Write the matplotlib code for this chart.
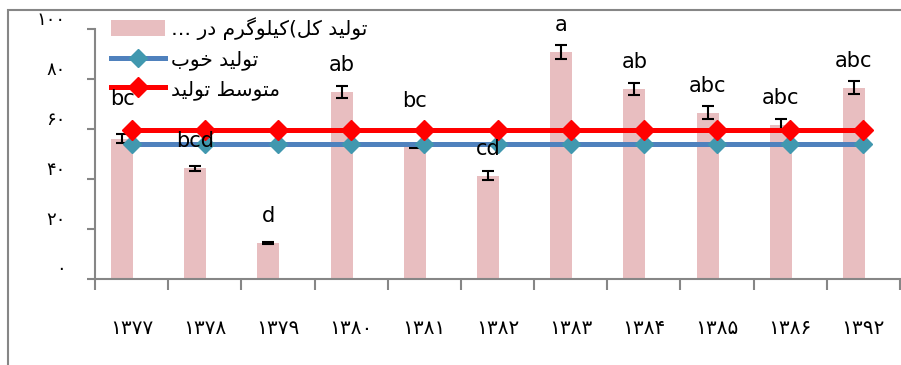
import numpy as np
import matplotlib
matplotlib.use("Agg")
import matplotlib.pyplot as plt
from matplotlib.patches import Rectangle

# years (persian digits), bar values, error half-widths, group letters
years = ['۱۳۷۷', '۱۳۷۸', '۱۳۷۹', '۱۳۸۰', '۱۳۸۱', '۱۳۸۲',
         '۱۳۸۳', '۱۳۸۴', '۱۳۸۵', '۱۳۸۶', '۱۳۹۲']
total = [56.0, 44.2, 14.2, 74.8, 53.0, 41.2, 90.6, 75.9, 66.5, 61.6, 76.5]
err = [1.8, 1.0, 0.4, 2.5, 0.5, 1.8, 2.8, 2.3, 2.5, 2.5, 2.5]
letters = ['bc', 'bcd', 'd', 'ab', 'bc', 'cd', 'a', 'ab', 'abc', 'abc', 'abc']
good = [54.1] * 11
mean = [59.5] * 11

yticks = [0, 20, 40, 60, 80, 100]
ytick_labels = ['۰', '۲۰', '۴۰', '۶۰', '۸۰', '۱۰۰']

name_total = 'تولید کل(کیلوگرم در …'
name_good = 'تولید خوب'
name_mean = 'متوسط تولید'

# no text shaping in matplotlib -> pick presentation forms by hand
FORMS = {
    'ت': '\uFE95\uFE96\uFE97\uFE98',
    'و': '\uFEED\uFEEE',
    'ل': '\uFEDD\uFEDE\uFEDF\uFEE0',
    'ی': '\uFBFC\uFBFD\uFBFE\uFBFF',
    'د': '\uFEA9\uFEAA',
    'ک': '\uFB8E\uFB8F\uFB90\uFB91',
    'گ': '\uFB92\uFB93\uFB94\uFB95',
    'ر': '\uFEAD\uFEAE',
    'م': '\uFEE1\uFEE2\uFEE3\uFEE4',
    'خ': '\uFEA5\uFEA6\uFEA7\uFEA8',
    'ب': '\uFE8F\uFE90\uFE91\uFE92',
    'س': '\uFEB1\uFEB2\uFEB3\uFEB4',
    'ط': '\uFEC1\uFEC2\uFEC3\uFEC4',
}

def shape(text):
    out = []
    for i, ch in enumerate(text):
        f = FORMS.get(ch)
        if f is None:
            out.append(ch)
            continue
        prev = FORMS.get(text[i-1]) if i > 0 else None
        nxt = FORMS.get(text[i+1]) if i + 1 < len(text) else None
        a = prev is not None and len(prev) == 4
        b = nxt is not None and len(f) == 4
        if a and b:
            out.append(f[3])
        elif a:
            out.append(f[1])
        elif b:
            out.append(f[2])
        else:
            out.append(f[0])
    return ''.join(reversed(out))

plt.rcParams['font.family'] = ['DejaVu Sans']

fig = plt.figure(figsize=(9.01, 3.65), dpi=100)
ax = fig.add_axes([95/901, 86.5/365, 805/901, 249.5/365])

x = np.arange(len(years))
bx = x - 0.13
gray = '#868686'

h_bar = ax.bar(bx, total, width=0.3, color='#E8BEC0', zorder=2)
ax.errorbar(bx, total, yerr=err, fmt='none', ecolor='black', elinewidth=1.5,
            capsize=4.5, capthick=1.5, zorder=3)
h_good, = ax.plot(x, good, color='#4F81BD', lw=3.6, marker='D', markersize=9.5,
                  markerfacecolor='#4198AF', markeredgecolor='#4198AF', zorder=4)
h_mean, = ax.plot(x, mean, color='#FF0000', lw=3.6, marker='D', markersize=10,
                  markerfacecolor='#FF0000', markeredgecolor='#FF0000', zorder=5)

lift = [13, 0, 0, 0, 18, 0, 0, 0, 0, 0, 0]
for i in range(len(years)):
    ax.annotate(letters[i], xy=(bx[i], total[i]), xytext=(0, 27 + lift[i]),
                textcoords='offset pixels', ha='center', va='center',
                fontsize=15, zorder=6)

ax.set_xlim(-0.5, len(years) - 0.5)
ax.set_ylim(0, 100)

for s in ['top', 'right']:
    ax.spines[s].set_visible(False)
for s in ['left', 'bottom']:
    ax.spines[s].set_color(gray)
    ax.spines[s].set_linewidth(1.5)

ax.set_yticks(yticks)
ax.set_yticklabels(ytick_labels, fontsize=13)
for lab in ax.get_yticklabels():
    lab.set_va('bottom')
ax.tick_params(axis='y', length=6, width=1.5, color=gray, pad=15)

ax.set_xticks(np.arange(len(years) + 1) - 0.5)
ax.set_xticklabels([])
ax.set_xticks(x, minor=True)
ax.set_xticklabels(years, minor=True, fontsize=14.5)
ax.tick_params(axis='x', which='major', length=8, width=1.5, color=gray)
ax.tick_params(axis='x', which='minor', length=0, pad=29)

ax.legend([h_bar, h_good, h_mean],
          [shape(name_total), shape(name_good), shape(name_mean)],
          loc='upper left', bbox_to_anchor=(111/901, 1 - 17/365),
          bbox_transform=fig.transFigure, frameon=False, fontsize=14.5,
          handlelength=2.7, handleheight=0.8, handletextpad=0.3,
          labelspacing=0.5, borderpad=0, borderaxespad=0)

# outer chart frame (only top and left edges are visible)
fig.add_artist(Rectangle((8/901, -0.2), 1.5, 0.2 + 1 - 10/365,
                         transform=fig.transFigure, fill=False,
                         edgecolor=gray, lw=1.5))

fig.savefig('out.png', dpi=100)
